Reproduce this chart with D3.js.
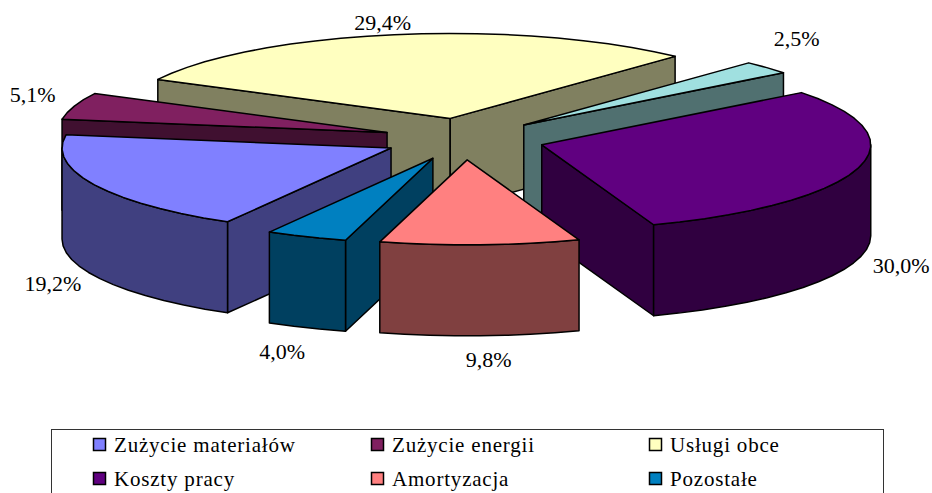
<!DOCTYPE html>
<html>
<head>
<meta charset="utf-8">
<script src="https://cdn.jsdelivr.net/npm/d3@7"></script>
<style>
  body { margin: 0; background: #fff; }
  svg { display: block; }
  text { font-family: "Liberation Serif", serif; fill: #000; }
</style>
</head>
<body>
<div id="chart"></div>
<script>
// pie data, in clockwise order from the lower left
const sliceValues = [19.2, 5.1, 29.4, 2.5, 30.0, 9.8, 4.0]
const sliceLabels = ["19,2%", "5,1%", "29,4%", "2,5%", "30,0%", "9,8%", "4,0%"]
const sliceColors = ["#8080ff", "#802060", "#ffffc0", "#a0e0e0", "#600080", "#ff8080", "#0080c0"]

// the 2,5% slice has no legend row in the picture
const legendNames = ["Zużycie materiałów", "Zużycie energii", "Usługi obce", "Koszty pracy", "Amortyzacja", "Pozostałe"]
const legendSlices = [0, 1, 2, 4, 5, 6]

// back to front
const paintOrder = [2, 3, 4, 1, 0, 6, 5]

function drawPie() {
  const width = 932
  const height = 493
  const center = { x: 464, y: 139 }
  const radius = { x: 329, y: 85 }
  const depth = 91
  const explode = 0.246
  const firstAngle = -150.2
  const rad = d => d * Math.PI / 180

  const svg = d3.select("#chart").append("svg")
      .attr("width", width)
      .attr("height", height)

  // unit circle -> tilted ellipse
  const xScale = d3.scaleLinear().domain([-1, 1]).range([center.x - radius.x, center.x + radius.x])
  const yScale = d3.scaleLinear().domain([-1, 1]).range([center.y - radius.y, center.y + radius.y])

  const pie = d3.pie()
    .sort(null)
    .value(d => d)
    .startAngle(rad(firstAngle))
    .endAngle(rad(firstAngle + 360))

  const slices = pie(sliceValues)

  const lineClosed = d3.line().curve(d3.curveLinearClosed)

  const apexOf = s => {
    const mid = (s.startAngle + s.endAngle) / 2
    return [explode * Math.sin(mid), -explode * Math.cos(mid)]
  }
  const rimPoint = (s, a, r = 1, z = 0) => {
    const apex = apexOf(s)
    return [
      xScale(apex[0] + r * Math.sin(a)),
      yScale(apex[1] - r * Math.cos(a)) + z,
    ]
  }
  const arcPoints = (s, a0, a1, z = 0) => {
    const n = Math.max(1, Math.ceil((a1 - a0) / rad(5)))
    return d3.range(n + 1).map(i => rimPoint(s, a0 + (a1 - a0) * i / n, 1, z))
  }
  const edgeFace = (s, a) => [
    rimPoint(s, a, 0),
    rimPoint(s, a, 1),
    rimPoint(s, a, 1, depth),
    rimPoint(s, a, 0, depth),
  ]

  paintOrder.forEach(i => {
    const s = slices[i]
    const top = d3.rgb(sliceColors[i])
    const side = d3.rgb(top.r / 2, top.g / 2, top.b / 2).formatHex()
    const g = svg.append("g")
      .attr("stroke", "#000")
      .attr("stroke-width", 1.5)
      .attr("stroke-linejoin", "round")

    // flat cut faces, only the ones turned to the viewer
    if (Math.sin(s.startAngle) < 0) {
      g.append("path").attr("d", lineClosed(edgeFace(s, s.startAngle))).attr("fill", side)
    }
    if (Math.sin(s.endAngle) > 0) {
      g.append("path").attr("d", lineClosed(edgeFace(s, s.endAngle))).attr("fill", side)
    }

    // outer wall: front half of the ellipse only
    const fronts = [[rad(90), rad(270)], [rad(-270), rad(-90)]]
    fronts.forEach(([lo, hi]) => {
      const a0 = Math.max(s.startAngle, lo)
      const a1 = Math.min(s.endAngle, hi)
      if (a1 <= a0) return
      const wall = arcPoints(s, a0, a1).concat(arcPoints(s, a0, a1, depth).reverse())
      g.append("path").attr("d", lineClosed(wall)).attr("fill", side)
    })

    // lid
    const lid = [rimPoint(s, 0, 0)].concat(arcPoints(s, s.startAngle, s.endAngle))
    g.append("path").attr("d", lineClosed(lid)).attr("fill", sliceColors[i])
  })

  // data labels
  const labelPad = { x: 45, y: 24 }
  const labelNudge = [[-1, -2], [1, -4], [-4, 12], [-3.5, -12], [0, 0], [7, 0], [-7, 2]]
  slices.forEach((s, i) => {
    const mid = (s.startAngle + s.endAngle) / 2
    const p = rimPoint(s, mid)
    const front = Math.cos(mid) < 0
    svg.append("text")
      .attr("x", p[0] + labelPad.x * Math.sin(mid) + labelNudge[i][0])
      .attr("y", p[1] + (front ? depth : 0) - labelPad.y * Math.cos(mid) + 7 + labelNudge[i][1])
      .attr("text-anchor", "middle")
      .attr("font-size", 22)
      .text(sliceLabels[i])
  })

  // legend, its lower edge runs off the page
  svg.append("rect")
    .attr("x", 51.5)
    .attr("y", 429.5)
    .attr("width", 832)
    .attr("height", 90)
    .attr("fill", "#fff")
    .attr("stroke", "#333")
    .attr("stroke-width", 1)

  const colScale = d3.scaleLinear().domain([0, 1]).range([93, 371])
  const rowScale = d3.scaleLinear().domain([0, 1]).range([452, 486])

  legendNames.forEach((name, i) => {
    const col = i % 3
    const row = Math.floor(i / 3)
    svg.append("rect")
      .attr("x", colScale(col) + 0.5)
      .attr("y", rowScale(row) - 13.5)
      .attr("width", 12)
      .attr("height", 12)
      .attr("fill", sliceColors[legendSlices[i]])
      .attr("stroke", "#000")
      .attr("stroke-width", 1.5)
    svg.append("text")
      .attr("x", colScale(col) + 21)
      .attr("y", rowScale(row))
      .attr("font-size", 21)
      .attr("letter-spacing", 0.8)
      .text(name)
  })
}

drawPie()
</script>
</body>
</html>
